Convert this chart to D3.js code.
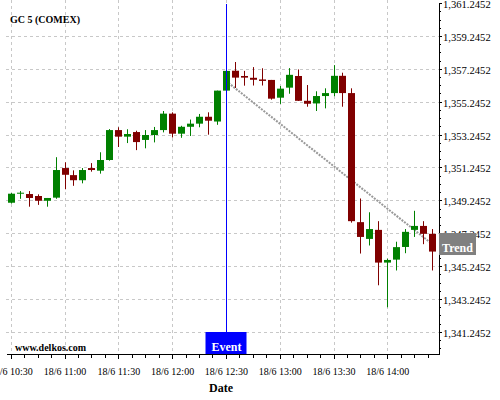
<html>
<head>
    <style>
    body { margin: 0; background: #fff; }
    text { font-family: "Liberation Serif", "Times New Roman", serif; }
    .grid line { stroke: #c8c8c8; stroke-dasharray: 3,3; shape-rendering: crispEdges; }
    .axis path, .axis line { stroke: #000; shape-rendering: crispEdges; }
    </style>
    <script src="https://cdn.jsdelivr.net/npm/d3@7"></script>
</head>
<body>
    <svg id="container" width="500" height="400"></svg>
</body>
<script>
    // 5 minute candles, 18/6
    let times = ["10:30","10:35","10:40","10:45","10:50","10:55","11:00","11:05","11:10","11:15","11:20","11:25",
                 "11:30","11:35","11:40","11:45","11:50","11:55","12:00","12:05","12:10","12:15","12:20","12:25",
                 "12:30","12:35","12:40","12:45","12:50","12:55","13:00","13:05","13:10","13:15","13:20","13:25",
                 "13:30","13:35","13:40","13:45","13:50","13:55","14:00","14:05","14:10","14:15","14:20","14:25"]
    let open  = [1349.10,1349.65,1349.63,1349.51,1349.22,1349.41,1351.21,1350.78,1350.47,1351.21,1351.05,1351.70,
                 1353.52,1353.12,1353.40,1352.92,1353.22,1353.52,1354.52,1353.30,1353.72,1353.91,1354.33,1354.04,
                 1355.92,1357.13,1356.81,1356.70,1356.60,1356.57,1355.49,1356.10,1356.81,1355.30,1355.14,1355.59,
                 1355.77,1356.82,1355.77,1347.92,1346.90,1347.45,1345.46,1345.64,1346.41,1347.45,1347.69,1347.21]
    let high  = [1349.69,1349.81,1349.81,1349.61,1349.39,1351.87,1351.56,1351.07,1351.21,1351.51,1352.17,1353.58,
                 1353.69,1353.57,1353.48,1353.52,1353.71,1354.68,1354.60,1353.78,1354.16,1354.50,1354.60,1355.92,
                 1357.15,1357.66,1357.12,1357.35,1357.28,1356.57,1356.20,1357.29,1357.21,1356.26,1355.88,1356.06,
                 1357.47,1357.01,1356.06,1349.36,1348.52,1347.98,1345.70,1346.73,1347.50,1348.61,1347.98,1347.50]
    let low   = [1349.05,1349.34,1348.86,1348.97,1348.86,1349.34,1349.92,1350.13,1350.28,1350.99,1350.87,1351.66,
                 1352.49,1352.73,1352.30,1352.41,1352.77,1353.38,1353.07,1353.05,1353.16,1353.69,1353.24,1353.84,
                 1355.91,1356.08,1356.22,1356.23,1356.23,1355.37,1355.11,1355.73,1355.29,1354.94,1354.68,1354.84,
                 1355.58,1354.94,1347.89,1346.01,1346.50,1344.08,1342.74,1344.98,1346.03,1347.02,1346.58,1344.98]
    let close = [1349.65,1349.71,1349.39,1349.22,1349.39,1351.09,1350.80,1350.47,1351.09,1351.09,1351.70,1353.52,
                 1353.12,1353.28,1352.79,1353.22,1353.52,1354.52,1353.30,1353.72,1353.91,1354.33,1354.09,1355.92,
                 1357.12,1356.71,1356.71,1356.58,1356.51,1355.43,1356.04,1356.88,1355.30,1355.12,1355.59,1355.77,
                 1356.82,1355.77,1347.98,1347.02,1347.50,1345.46,1345.62,1346.40,1347.33,1347.69,1347.21,1346.13]

    let priceTicks = [1341.2452,1343.2452,1345.2452,1347.2452,1349.2452,1351.2452,1353.2452,1355.2452,1357.2452,1359.2452,1361.2452]
    let timeTicks = ["10:30","11:00","11:30","12:00","12:30","13:00","13:30","14:00"]

    let eventTime = "12:30"
    let trendTimes = ["12:30","14:25"]
    let trendValues = [1356.51,1346.59]

    let parse = s => new Date(2015, 5, 18, +s.split(":")[0], +s.split(":")[1])

    let data = times.map((t, i) => ({
        date: parse(t), open: open[i], high: high[i], low: low[i], close: close[i]
    }))

    let svg = d3.select("#container")
    let plotLeft = 6, plotRight = 439, plotTop = 2, plotBottom = 354

    //x scale: 10:30 -> 10.7, 14:00 -> 387.3
    let xBase = d3.scaleTime().domain([parse("10:30"), parse("14:00")]).range([10.7, 387.3])
    let xScale = d3.scaleTime().domain([xBase.invert(plotLeft), xBase.invert(plotRight)]).range([plotLeft, plotRight])
    let yScale = d3.scaleLinear().domain([1339.90, 1361.31]).range([plotBottom, plotTop])

    // grid
    let grid = svg.append("g").attr("class", "grid")
    grid.selectAll(".v").data(timeTicks).enter().append("line")
        .attr("x1", d => Math.round(xScale(parse(d))) + 0.5).attr("x2", d => Math.round(xScale(parse(d))) + 0.5)
        .attr("y1", 0).attr("y2", plotBottom)
    grid.selectAll(".h").data(priceTicks.slice(0, -1)).enter().append("line")
        .attr("x1", plotLeft).attr("x2", plotRight)
        .attr("y1", d => Math.round(yScale(d)) + 0.5).attr("y2", d => Math.round(yScale(d)) + 0.5)

    // trend line (behind candles)
    svg.append("line")
        .attr("x1", xScale(parse(trendTimes[0]))).attr("y1", yScale(trendValues[0]))
        .attr("x2", xScale(parse(trendTimes[1]))).attr("y2", yScale(trendValues[1]))
        .attr("stroke", "#999").attr("stroke-width", 2).attr("stroke-dasharray", "2,1.2")

    // candles
    let candles = svg.append("g").selectAll("g").data(data).enter().append("g")
    candles.append("line")
        .attr("x1", d => Math.round(xScale(d.date)) + 0.5).attr("x2", d => Math.round(xScale(d.date)) + 0.5)
        .attr("y1", d => yScale(d.high)).attr("y2", d => yScale(d.low))
        .attr("stroke", d => d.close >= d.open ? "#008000" : "#800000")
    candles.append("rect")
        .attr("x", d => Math.round(xScale(d.date)) - 3)
        .attr("width", 7)
        .attr("y", d => yScale(Math.max(d.open, d.close)))
        .attr("height", d => Math.max(1, Math.abs(yScale(d.open) - yScale(d.close))))
        .attr("fill", d => d.close >= d.open ? "#008000" : "#800000")

    // x axis
    let xMinor = d3.range(-1, 33).map(k => new Date(parse("10:30").getTime() + k * 7.5 * 60000))
        .filter(d => d >= xScale.domain()[0] && d <= xScale.domain()[1])
    svg.append("g").attr("class", "axis")
        .attr("transform", "translate(0," + plotBottom + ")")
        .call(d3.axisBottom(xScale).tickValues(xMinor).tickSize(4).tickSizeOuter(0).tickFormat(""))
    let xAxis = svg.append("g").attr("class", "axis")
        .attr("transform", "translate(0," + plotBottom + ")")
        .call(d3.axisBottom(xScale).tickValues(timeTicks.map(parse)).tickSize(5).tickSizeOuter(0)
            .tickPadding(9).tickFormat(d3.timeFormat("%-d/%-m %H:%M")))
    xAxis.selectAll("text").attr("font-size", "10px").attr("fill", "#000").attr("font-family", "Liberation Serif")

    // y axis on the right
    let yMinor = d3.range(0, 44).map(k => 1339.7452 + k * 0.5).filter(v => v >= 1339.90 && v <= 1361.31)
    svg.append("g").attr("class", "axis")
        .attr("transform", "translate(" + plotRight + ",0)")
        .call(d3.axisRight(yScale).tickValues(yMinor).tickSize(2).tickSizeOuter(0).tickFormat(""))
    let yAxis = svg.append("g").attr("class", "axis")
        .attr("transform", "translate(" + plotRight + ",0)")
        .call(d3.axisRight(yScale).tickValues(priceTicks).tickSize(3).tickSizeOuter(0)
            .tickPadding(1).tickFormat(d3.format(",.4f")))
    yAxis.selectAll("text").attr("font-size", "10.6px").attr("fill", "#000")
        .attr("font-family", "Liberation Serif").attr("dy", "0.42em")

    // event marker
    let ex = Math.round(xScale(parse(eventTime))) + 0.5
    svg.append("line").attr("x1", ex).attr("x2", ex).attr("y1", 4).attr("y2", plotBottom)
        .attr("stroke", "#0000ff")
    svg.append("rect").attr("x", ex - 21).attr("y", plotBottom - 22).attr("width", 41).attr("height", 22)
        .attr("fill", "#0000ff")
    svg.append("text").attr("x", ex).attr("y", plotBottom - 3).attr("text-anchor", "middle")
        .attr("font-size", "12px").attr("font-weight", "bold").attr("fill", "#fff").text("Event")

    // trend label
    let ty = yScale(trendValues[1])
    svg.append("rect").attr("x", plotRight).attr("y", ty - 11).attr("width", 37).attr("height", 22)
        .attr("fill", "#808080")
    svg.append("text").attr("x", plotRight + 18.5).attr("y", ty + 7.5).attr("text-anchor", "middle")
        .attr("font-size", "12px").attr("font-weight", "bold").attr("fill", "#fff").text("Trend")

    // texts
    svg.append("text").attr("x", 10).attr("y", 23).attr("font-size", "10px").attr("font-weight", "bold")
        .text("GC 5 (COMEX)")
    svg.append("text").attr("x", 15).attr("y", 351).attr("font-size", "10px").attr("font-weight", "bold")
        .text("www.delkos.com")
    svg.append("text").attr("x", 221).attr("y", 392).attr("text-anchor", "middle")
        .attr("font-size", "12px").attr("font-weight", "bold").text("Date")
</script>
</html>
